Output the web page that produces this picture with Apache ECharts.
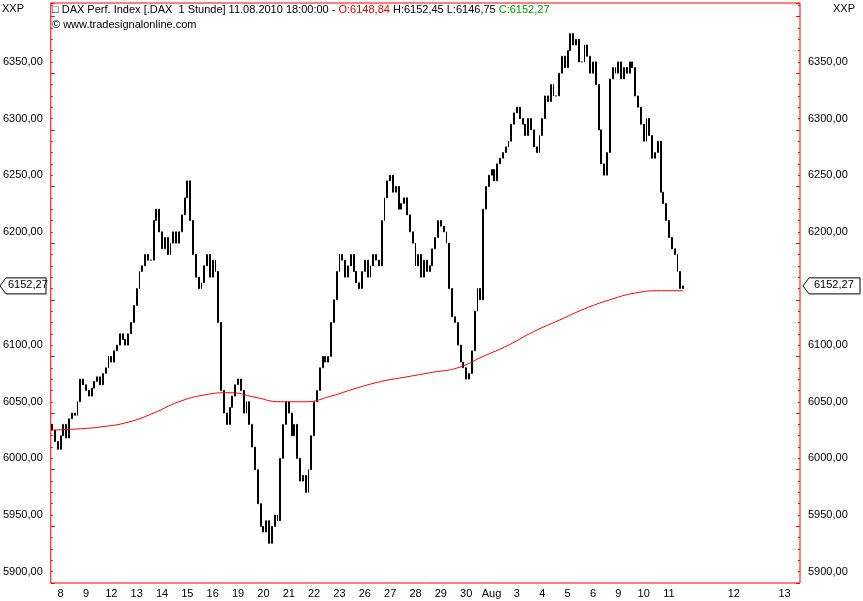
<!DOCTYPE html>
<html><head><meta charset="utf-8">
<script src="https://cdn.jsdelivr.net/npm/echarts@6/dist/echarts.min.js"></script>
<style>html,body{margin:0;background:#fff}#c{width:863px;height:601px}</style>
</head><body><div id="c"></div>
<script>
// trading days and hourly closes (9 per day)
var days = ['8','9','12','13','14','15','16','19','20','21','22','23','26','27','28','29','30','Aug','3','4','5','6','9','10','11'];
var closes = [
  [6025,6015,6008,6020,6030,6018,6035,6040,6038],
  [6050,6070,6065,6060,6055,6062,6068,6072,6065],
  [6075,6080,6090,6085,6095,6100,6110,6105,6100],
  [6110,6120,6135,6150,6165,6170,6180,6175,6175],
  [6210,6220,6200,6185,6195,6180,6190,6200,6190],
  [6200,6215,6230,6245,6210,6180,6160,6150,6155],
  [6170,6180,6160,6175,6165,6120,6060,6040,6030],
  [6045,6055,6065,6070,6060,6040,6050,6030,6010],
  [5990,5960,5940,5935,5945,5925,5940,5950,5945],
  [6000,6030,6050,6040,6020,6030,6000,5980,5985],
  [5970,5990,6020,6050,6060,6080,6090,6085,6090],
  [6120,6140,6165,6180,6175,6160,6170,6180,6165],
  [6155,6150,6165,6175,6160,6170,6180,6175,6170],
  [6210,6230,6245,6250,6235,6240,6220,6225,6230],
  [6215,6200,6190,6170,6180,6160,6175,6165,6170],
  [6185,6195,6210,6205,6200,6190,6150,6125,6120],
  [6100,6085,6080,6070,6075,6095,6130,6150,6140],
  [6220,6240,6250,6255,6245,6260,6265,6270,6275],
  [6280,6295,6305,6310,6300,6295,6285,6300,6290],
  [6275,6270,6285,6300,6320,6315,6330,6320,6320],
  [6340,6355,6345,6360,6375,6365,6370,6350,6350],
  [6365,6355,6340,6350,6330,6290,6260,6250,6270],
  [6335,6345,6340,6350,6335,6345,6340,6350,6345],
  [6320,6310,6295,6280,6300,6285,6265,6270,6280],
  [6235,6225,6210,6195,6185,6180,6165,6150,6152.27]
];
var firstOpen = 6030;
// moving average at the first hour of each day
var maDaily = [6025,6026,6028,6032,6040,6050,6056,6058,6054,6050,6050,6055,6062,6068,6072,6076,6080,6090,6100,6112,6122,6132,6140,6146,6148];
var maLast = 6148;
var futureLabels = {242: '12', 260: '13'};
var totalSlots = 266;
var lastPrice = 6152.27;

var cats = [], labels = {}, candles = [], ma = [];
var prev = firstOpen;
days.forEach(function (d, i) {
  labels[i * 9 + 3] = d;
  closes[i].forEach(function (c, h) {
    cats.push(String(cats.length));
    candles.push([prev, c, Math.min(prev, c), Math.max(prev, c)]);
    ma.push(h === 0 ? maDaily[i] : null);
    prev = c;
  });
});
ma[ma.length - 1] = maLast;
for (var k in futureLabels) labels[k] = futureLabels[k];
while (cats.length < totalSlots) cats.push(String(cats.length));

var fmt = function (v) { return v.toFixed(2).replace('.', ','); };
var ticks = [5900,5950,6000,6050,6100,6200,6250,6300,6350];
var yAx = function (pos) {
  return {type: 'value', min: 5890, max: 6402, interval: 50, position: pos,
    axisLabel: {formatter: fmt, fontSize: 11, color: '#000', fontFamily: 'Arial', customValues: ticks},
    axisTick: {show: true, inside: true, length: 4, lineStyle: {color: '#ff0000'}},
    minorTick: {show: true, splitNumber: 5, length: 2, lineStyle: {color: '#ff0000'}},
    axisLine: {show: false}, splitLine: {show: false}};
};
var chart = echarts.init(document.getElementById('c'));
chart.setOption({
  animation: false,
  grid: {left: 47, right: 63, top: 3, bottom: 18, show: true, borderColor: '#ff0000', borderWidth: 1},
  xAxis: {
    type: 'category', data: cats, boundaryGap: true,
    axisLine: {show: false}, axisTick: {show: false},
    axisLabel: {interval: 0, fontSize: 11, color: '#000', fontFamily: 'Arial', margin: 5,
      formatter: function (v) { return labels[v] || ''; }},
    splitLine: {show: false}
  },
  yAxis: [yAx('left'), yAx('right')],
  series: [
    {type: 'candlestick', data: candles, barMaxWidth: 2,
     itemStyle: {color: '#fff', color0: '#000', borderColor: '#000', borderColor0: '#000', borderWidth: 1}},
    {type: 'line', data: ma, connectNulls: true, showSymbol: false, smooth: true,
     lineStyle: {color: '#ff0000', width: 1}}
  ]
});

var yp = chart.convertToPixel({yAxisIndex: 0}, lastPrice);
chart.setOption({graphic: [
  {type: 'text', left: 2, top: 3, style: {text: 'XXP', fontSize: 11, fontFamily: 'Arial', fill: '#000'}},
  {type: 'text', right: 8, top: 3, style: {text: 'XXP', fontSize: 11, fontFamily: 'Arial', fill: '#000'}},
  {type: 'text', left: 52, top: 4, style: {
    rich: {b: {fontSize: 11, fontFamily: 'Arial', fill: '#000'}, r: {fontSize: 11, fontFamily: 'Arial', fill: '#e00000'}, g: {fontSize: 11, fontFamily: 'Arial', fill: '#00a000'}},
    text: '{b|\u25A1 DAX Perf. Index [.DAX  1 Stunde] 11.08.2010 18:00:00 - }{r|O:6148,84 }{b|H:6152,45 L:6146,75 }{g|C:6152,27}'}},
  {type: 'text', left: 52, top: 19, style: {text: '\u00A9 www.tradesignalonline.com', fontSize: 11, fontFamily: 'Arial', fill: '#000'}},
  {type: 'polygon', z: 100, shape: {points: [[0, yp], [6, yp - 8], [46, yp - 8], [46, yp + 8], [6, yp + 8]]}, style: {fill: '#fff', stroke: '#000'}},
  {type: 'text', z: 101, x: 8, y: yp - 6, style: {text: fmt(lastPrice), fontSize: 11, fontFamily: 'Arial', fill: '#000'}},
  {type: 'polygon', z: 100, shape: {points: [[803, yp], [809, yp - 8], [860, yp - 8], [860, yp + 8], [809, yp + 8]]}, style: {fill: '#fff', stroke: '#000'}},
  {type: 'text', z: 101, x: 814, y: yp - 6, style: {text: fmt(lastPrice), fontSize: 11, fontFamily: 'Arial', fill: '#000'}}
]});
</script></body></html>
